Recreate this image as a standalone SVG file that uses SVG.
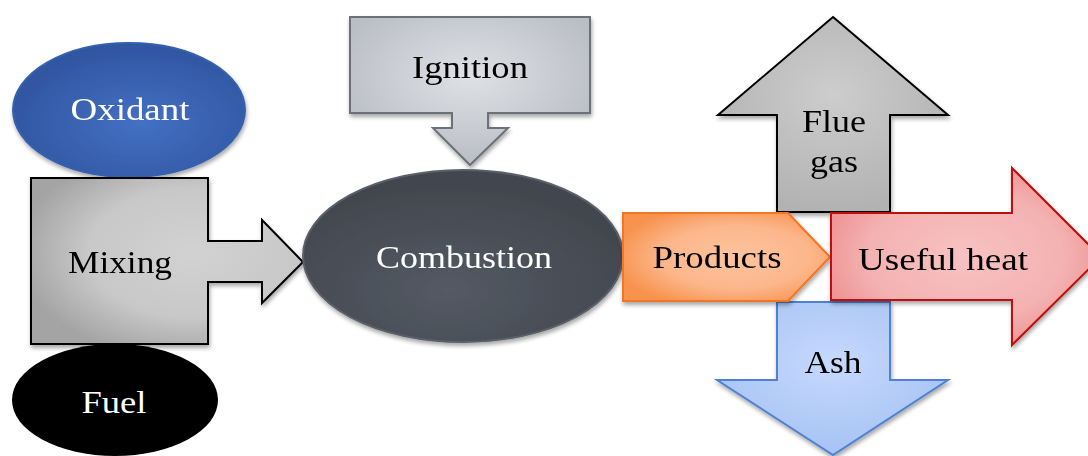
<svg xmlns="http://www.w3.org/2000/svg" width="1088" height="456" viewBox="0 0 1088 456">
<defs>
<style>
text{font-family:"Liberation Serif","Times New Roman",serif;font-size:31px;text-anchor:middle}
.w{fill:#ffffff}
.k{fill:#000000}
</style>
<radialGradient id="gOx" cx="0.55" cy="0.6" r="0.6"><stop offset="0" stop-color="#4470c4"/><stop offset="1" stop-color="#2f559f"/></radialGradient>
<radialGradient id="gMix" cx="0.6" cy="0.45" r="0.65"><stop offset="0" stop-color="#d2d2d2"/><stop offset="0.6" stop-color="#c8c8c8"/><stop offset="1" stop-color="#a4a4a4"/></radialGradient>
<radialGradient id="gIgn" cx="0.5" cy="0.4" r="0.6"><stop offset="0" stop-color="#dfe1e5"/><stop offset="1" stop-color="#b9bdc4"/></radialGradient>
<radialGradient id="gCom" cx="0.45" cy="0.7" r="0.6"><stop offset="0" stop-color="#545a64"/><stop offset="1" stop-color="#43474f"/></radialGradient>
<radialGradient id="gFlue" cx="0.5" cy="0.4" r="0.6"><stop offset="0" stop-color="#cdcdcd"/><stop offset="1" stop-color="#b2b2b2"/></radialGradient>
<radialGradient id="gProd" cx="0.55" cy="0.5" r="0.6"><stop offset="0" stop-color="#fdc4a0"/><stop offset="0.6" stop-color="#fcb68a"/><stop offset="1" stop-color="#f8934f"/></radialGradient>
<radialGradient id="gHeat" cx="0.5" cy="0.5" r="0.6"><stop offset="0" stop-color="#f7c2c2"/><stop offset="0.6" stop-color="#f4b2b2"/><stop offset="1" stop-color="#ec8a8a"/></radialGradient>
<radialGradient id="gAsh" cx="0.5" cy="0.4" r="0.6"><stop offset="0" stop-color="#c7d9fd"/><stop offset="1" stop-color="#a6c2f4"/></radialGradient>
<filter id="sh" x="-10%" y="-10%" width="130%" height="130%"><feGaussianBlur in="SourceAlpha" stdDeviation="2"/><feOffset dx="1" dy="3"/><feComponentTransfer><feFuncA type="linear" slope="0.35"/></feComponentTransfer><feMerge><feMergeNode/><feMergeNode in="SourceGraphic"/></feMerge></filter>
</defs>
<g id="connectors"/>
<g id="oxidant" filter="url(#sh)">
<ellipse cx="129" cy="110" rx="116" ry="67" fill="url(#gOx)" stroke="#3561b0" stroke-width="2"/>
<text class="w" x="130" y="120" textLength="119" lengthAdjust="spacingAndGlyphs">Oxidant</text>
</g>
<g id="fuel">
<ellipse cx="115" cy="400" rx="103" ry="56" fill="#000"/>
<text class="w" x="114" y="413" textLength="65" lengthAdjust="spacingAndGlyphs">Fuel</text>
</g>
<g id="mixing" filter="url(#sh)">
<path d="M31,178 H208 V241 H262 V220 L303,262 L262,303 V282 H208 V344 H31 Z" fill="url(#gMix)" stroke="#000" stroke-width="2" stroke-linejoin="miter"/>
<text class="k" x="120" y="273" textLength="104" lengthAdjust="spacingAndGlyphs">Mixing</text>
</g>
<g id="ignition" filter="url(#sh)">
<path d="M350,17 H590 V113 H488 V128 H508 L470,165 L433,128 H452 V113 H350 Z" fill="url(#gIgn)" stroke="#6c7179" stroke-width="2"/>
<text class="k" x="470" y="78" textLength="116" lengthAdjust="spacingAndGlyphs">Ignition</text>
</g>
<g id="combustion" filter="url(#sh)">
<ellipse cx="463" cy="256" rx="160" ry="86" fill="url(#gCom)" stroke="#5a606a" stroke-width="2"/>
<text class="w" x="464" y="268" textLength="176" lengthAdjust="spacingAndGlyphs">Combustion</text>
</g>
<g id="flue-gas" filter="url(#sh)">
<path d="M833,17 L948,115 H890 V212 H777 V115 H718 Z" fill="url(#gFlue)" stroke="#000" stroke-width="2"/>
<text class="k" x="834" y="132" textLength="64" lengthAdjust="spacingAndGlyphs">Flue</text>
<text class="k" x="834" y="172" textLength="48" lengthAdjust="spacingAndGlyphs">gas</text>
</g>
<g id="ash" filter="url(#sh)">
<path d="M777,302 H890 V380 H948 L833,455 L717,380 H777 Z" fill="url(#gAsh)" stroke="#4f80d2" stroke-width="2"/>
<text class="k" x="833" y="373" textLength="57" lengthAdjust="spacingAndGlyphs">Ash</text>
</g>
<g id="products" filter="url(#sh)">
<path d="M623,213 H788 L830,257 L788,301 H623 Z" fill="url(#gProd)" stroke="#f47420" stroke-width="2"/>
<text class="k" x="717" y="268" textLength="129" lengthAdjust="spacingAndGlyphs">Products</text>
</g>
<g id="useful-heat" filter="url(#sh)">
<path d="M831,213 H1012 V168 L1101,257 L1012,345 V300 H831 Z" fill="url(#gHeat)" stroke="#c00c0c" stroke-width="2"/>
<text class="k" x="943" y="270" textLength="170" lengthAdjust="spacingAndGlyphs">Useful heat</text>
</g>
</svg>
